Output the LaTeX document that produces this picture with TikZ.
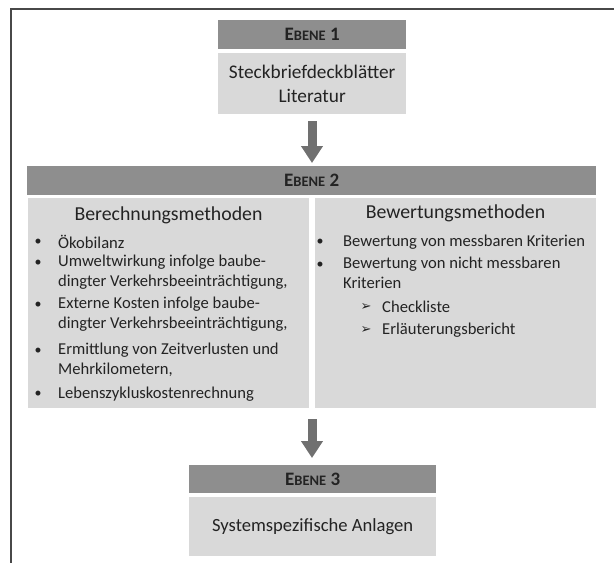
\documentclass[tikz,border=0pt]{standalone}
\usepackage{fontspec}
\setmainfont{Carlito}
\usetikzlibrary{arrows.meta}
\definecolor{hdrgray}{RGB}{142,142,142}
\definecolor{boxgray}{RGB}{217,217,217}
\definecolor{arrowgray}{RGB}{112,112,112}
\definecolor{framegray}{RGB}{72,72,72}
\definecolor{txt}{RGB}{35,35,35}
\newcommand{\ebene}[1]{\bfseries\fontsize{19}{22}\selectfont E{\fontsize{14.5}{17}\selectfont BENE} #1}
\begin{document}
\begin{tikzpicture}[x=1pt,y=-1pt,
  hdrbox/.style={rectangle,fill=hdrgray,inner sep=0pt,anchor=north west,text=txt},
  lightbox/.style={rectangle,fill=boxgray,inner sep=0pt,anchor=north west,text=txt},
  bodytext/.style={inner sep=0pt,text=txt,font=\fontsize{16.6}{19.5}\selectfont,align=left,anchor=west},
  titletext/.style={inner sep=0pt,text=txt,font=\fontsize{19.8}{22}\selectfont},
  bul/.style={inner sep=0pt,text=txt,font=\fontsize{14}{19}\selectfont},
  bigarrow/.style={draw=arrowgray,line width=9pt,-{Triangle[width=21pt,length=17pt]},color=arrowgray}
]
\useasboundingbox (0,0) rectangle (614,563);
% frame
\draw[framegray,line width=2pt] (11,563) -- (11,9) -- (614,9);

% Ebene 1
\node[hdrbox,minimum width=188pt,minimum height=29pt] (e1h) at (218,20) {\ebene{1}};
\node[lightbox,minimum width=188pt,minimum height=61pt,align=center,font=\fontsize{19.3}{24}\selectfont] (e1c) at (218,53) {Steckbriefdeckblätter\\Literatur};

% Ebene 2
\node[hdrbox,minimum width=569pt,minimum height=29pt] (e2h) at (27,166) {\ebene{2}};
\node[lightbox,minimum width=281pt,minimum height=210pt] (e2l) at (28,198) {};
\node[lightbox,minimum width=281pt,minimum height=210pt] (e2r) at (315,198) {};

% left column
\node[titletext] (lt) at (168.5,215) {Berechnungsmethoden};
\node[bul] (lb1) at (38,242) {•};
\node[bodytext] (li1) at (58,242) {Ökobilanz};
\node[bul] (lb2) at (38,263) {•};
\node[bodytext,anchor=north west] (li2) at (58,255) {Umweltwirkung infolge baube-\\dingter Verkehrsbeeinträchtigung,};
\node[bul] (lb3) at (38,305) {•};
\node[bodytext,anchor=north west] (li3) at (58,297) {Externe Kosten infolge baube-\\dingter Verkehrsbeeinträchtigung,};
\node[bul] (lb4) at (38,351) {•};
\node[bodytext,anchor=north west] (li4) at (58,343) {Ermittlung von Zeitverlusten und\\Mehrkilometern,};
\node[bul] (lb5) at (38,394) {•};
\node[bodytext] (li5) at (58,394) {Lebenszykluskostenrechnung};

% right column
\node[titletext] (rt) at (455.5,213) {Bewertungsmethoden};
\node[bul] (rb1) at (320,242) {•};
\node[bodytext] (ri1) at (343,242) {Bewertung von messbaren Kriterien};
\node[bul] (rb2) at (320,265) {•};
\node[bodytext,anchor=north west] (ri2) at (343,257) {Bewertung von nicht messbaren\\Kriterien};
\node[bul,font=\fontsize{13}{14}\selectfont\fontspec{DejaVu Sans}] (rs1) at (366,307) {➢};
\node[bodytext] (rsi1) at (382,307) {Checkliste};
\node[bul,font=\fontsize{13}{14}\selectfont\fontspec{DejaVu Sans}] (rs2) at (366,330) {➢};
\node[bodytext] (rsi2) at (382,330) {Erläuterungsbericht};

% Ebene 3
\node[hdrbox,minimum width=247pt,minimum height=28pt] (e3h) at (189,465) {\ebene{3}};
\node[lightbox,minimum width=247pt,minimum height=59pt,font=\fontsize{18.6}{22}\selectfont] (e3c) at (189,497) {Systemspezifische Anlagen};

% arrows
\coordinate (a1s) at (312,121);
\coordinate (a1e) at (312,163);
\coordinate (a2s) at (312,419);
\coordinate (a2e) at (312,458);
\draw[bigarrow] (a1s) -- (a1e);
\draw[bigarrow] (a2s) -- (a2e);
\end{tikzpicture}
\end{document}
